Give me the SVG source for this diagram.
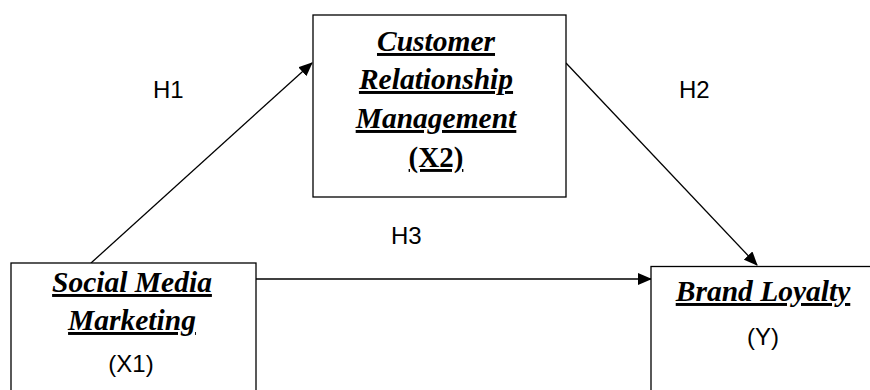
<svg xmlns="http://www.w3.org/2000/svg" width="870" height="390" viewBox="0 0 870 390">
<style>
.box{fill:#fff;stroke:#000;stroke-width:1.3}
.t{font-family:"Liberation Serif","Times New Roman",serif;font-weight:bold;font-style:italic;font-size:29.5px;text-decoration:underline;text-decoration-thickness:2.5px;text-anchor:middle}
.tb{font-family:"Liberation Serif","Times New Roman",serif;font-weight:bold;font-size:29px;text-decoration:underline;text-decoration-thickness:2.5px;text-anchor:middle}
.s{font-family:"Liberation Sans",Arial,sans-serif;font-size:24px;text-anchor:middle}
.lbl{font-family:"Liberation Sans",Arial,sans-serif;font-size:24px}
.c{stroke:#000;stroke-width:1.3;fill:none;marker-end:url(#ah)}
</style>
<defs>
<marker id="ah" markerWidth="14" markerHeight="12" refX="13" refY="6" orient="auto" markerUnits="userSpaceOnUse">
<path d="M0,0 L14,6 L0,12 Z" fill="#000"/>
</marker>
</defs>
<rect width="870" height="390" fill="#fff"/>
<g id="connectors">
<line class="c" x1="91" y1="263" x2="312" y2="63"/>
<line class="c" x1="566" y1="63" x2="757" y2="265"/>
<line class="c" x1="256" y1="279" x2="651" y2="279"/>
</g>
<g id="labels">
<text class="lbl" x="153" y="98">H1</text>
<text class="lbl" x="679" y="98">H2</text>
<text class="lbl" x="391" y="244">H3</text>
</g>
<g id="crm">
<rect class="box" x="313" y="15" width="253" height="182"/>
<text class="t" x="436" y="51">Customer</text>
<text class="t" x="436" y="89">Relationship</text>
<text class="t" x="436" y="128">Management</text>
<text class="tb" x="436" y="167">(X2)</text>
</g>
<g id="smm">
<rect class="box" x="11" y="263" width="245" height="150"/>
<text class="t" x="132" y="292">Social Media</text>
<text class="t" x="132" y="330">Marketing</text>
<text class="s" x="131" y="372">(X1)</text>
</g>
<g id="bl">
<rect class="box" x="651" y="266.5" width="240" height="150"/>
<text class="t" x="763" y="301">Brand Loyalty</text>
<text class="s" x="763" y="345">(Y)</text>
</g>
</svg>
